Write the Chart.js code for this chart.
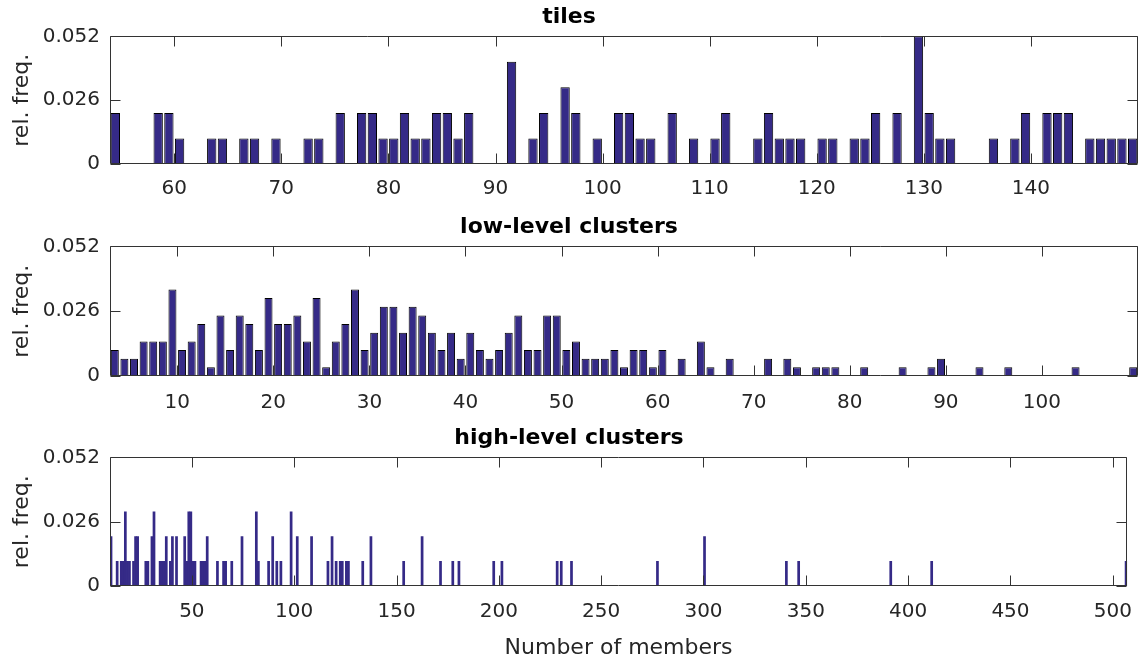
<!DOCTYPE html>
<html>
<head>
<meta charset="utf-8">
<title>Cluster size histograms</title>
<script src="https://cdn.jsdelivr.net/npm/chart.js@4.4.1/dist/chart.umd.min.js"></script>
<style>
  html, body { margin: 0; padding: 0; background: #fff; }
  #fig { position: relative; width: 1146px; height: 664px; }
  .panel { position: absolute; left: 0; width: 1146px; }
</style>
</head>
<body>
<div id="fig">
  <div class="panel" style="top:0;height:210px"><canvas id="tiles"></canvas></div>
  <div class="panel" style="top:210px;height:212px"><canvas id="low"></canvas></div>
  <div class="panel" style="top:422px;height:242px"><canvas id="high"></canvas></div>
</div>
<script>
// histogram bins (left edge of each 1-wide bin) and counts per bin, empty bins left out
var tileBins = [54, 58, 59, 60, 63, 64, 66, 67, 69, 72, 73, 75, 77, 78, 79, 80, 81, 82, 83, 84, 85, 86, 87,
  91, 93, 94, 96, 97, 99, 101, 102, 103, 104, 106, 108, 110, 111, 114, 115, 116, 117, 118, 120, 121,
  123, 124, 125, 127, 129, 130, 131, 132, 136, 138, 139, 141, 142, 143, 145, 146, 147, 148, 149];
var tileCounts = [2, 2, 2, 1, 1, 1, 1, 1, 1, 1, 1, 2, 2, 2, 1, 1, 2, 1, 1, 2, 2, 1, 2,
  4, 1, 2, 3, 2, 1, 2, 2, 1, 1, 2, 1, 1, 2, 1, 2, 1, 1, 1, 1, 1,
  1, 1, 2, 2, 5, 2, 1, 1, 1, 1, 2, 2, 2, 2, 1, 1, 1, 1, 1];

var lowBins = [3, 4, 5, 6, 7, 8, 9, 10, 11, 12, 13, 14, 15, 16, 17, 18, 19, 20, 21, 22, 23, 24, 25, 26,
  27, 28, 29, 30, 31, 32, 33, 34, 35, 36, 37, 38, 39, 40, 41, 42, 43, 44, 45, 46, 47, 48, 49, 50,
  51, 52, 53, 54, 55, 56, 57, 58, 59, 60, 62, 64, 65, 67, 71, 73, 74, 76, 77, 78, 81, 85, 88, 89,
  93, 96, 103, 109];
var lowCounts = [3, 2, 2, 4, 4, 4, 10, 3, 4, 6, 1, 7, 3, 7, 6, 3, 9, 6, 6, 7, 4, 9, 1, 4,
  6, 10, 3, 5, 8, 8, 5, 8, 7, 5, 3, 5, 2, 5, 3, 2, 3, 5, 7, 3, 3, 7, 7, 3,
  4, 2, 2, 2, 3, 1, 3, 3, 1, 3, 2, 4, 1, 2, 2, 2, 1, 1, 1, 1, 1, 1, 1, 2,
  1, 1, 1, 1];

var highBins = [10, 13, 15, 16, 17, 18, 19, 21, 22, 23, 27, 28, 30, 31, 34, 35, 36, 37, 39, 40, 42, 46,
  47, 48, 49, 50, 51, 54, 55, 56, 57, 62, 65, 66, 69, 74, 81, 82, 87, 89, 91, 93, 98, 101, 108,
  116, 118, 120, 122, 123, 125, 126, 133, 137, 153, 162, 171, 177, 180, 197, 201, 228, 230, 235,
  277, 300, 340, 346, 391, 411, 506];
var highCounts = [2, 1, 1, 1, 3, 1, 1, 1, 2, 2, 1, 1, 2, 3, 1, 1, 1, 2, 1, 2, 2, 2,
  1, 3, 3, 1, 1, 1, 1, 1, 2, 1, 1, 1, 1, 2, 3, 1, 1, 2, 1, 1, 3, 2, 2,
  1, 2, 1, 1, 1, 1, 1, 1, 2, 1, 2, 1, 1, 1, 1, 1, 1, 1, 1,
  1, 2, 1, 1, 1, 1, 1];

var tileTicks = [60, 70, 80, 90, 100, 110, 120, 130, 140];
var lowTicks = [10, 20, 30, 40, 50, 60, 70, 80, 90, 100];
var highTicks = [50, 100, 150, 200, 250, 300, 350, 400, 450, 500];
var freqTicks = [0, 0.026, 0.052];

Chart.defaults.font.family = '"DejaVu Sans", sans-serif';
Chart.defaults.color = '#262626';

// box around the plot area with inward tick marks on all four sides
var frame = {
  id: 'frame',
  afterDatasetsDraw: function (chart) {
    var ctx = chart.ctx, a = chart.chartArea, x = chart.scales.x, y = chart.scales.y;
    var L = Math.round(a.left) + 0.5, R = Math.round(a.right) - 0.5;
    var T = Math.round(a.top) + 0.5, B = Math.round(a.bottom) - 0.5;
    ctx.save();
    ctx.strokeStyle = '#333';
    ctx.lineWidth = 1;
    ctx.beginPath();
    ctx.rect(L, T, R - L, B - T);
    x.ticks.forEach(function (t) {
      var px = Math.round(x.getPixelForValue(t.value)) + 0.5;
      ctx.moveTo(px, B); ctx.lineTo(px, B - 10);
      ctx.moveTo(px, T); ctx.lineTo(px, T + 10);
    });
    y.ticks.forEach(function (t) {
      var py = Math.round(y.getPixelForValue(t.value)) + 0.5;
      ctx.moveTo(L, py); ctx.lineTo(L + 10, py);
      ctx.moveTo(R, py); ctx.lineTo(R - 10, py);
    });
    ctx.stroke();
    ctx.restore();
  }
};

function panel(id, o) {
  var total = o.counts.reduce(function (s, c) { return s + c; }, 0);
  // bars sit at the bin centres, height = relative frequency
  var points = o.bins.map(function (b, i) {
    return { x: b + 0.5, y: o.counts[i] / total };
  });

  return new Chart(document.getElementById(id), {
    type: 'bar',
    data: {
      datasets: [{
        data: points,
        backgroundColor: '#352A87',
        borderColor: '#000',
        borderWidth: o.edge,
        barPercentage: o.barPct,
        categoryPercentage: 1
      }]
    },
    options: {
      responsive: true,
      maintainAspectRatio: false,
      animation: false,
      layout: { padding: { left: 0, right: 8, top: 0, bottom: 0 } },
      plugins: {
        legend: { display: false },
        tooltip: { enabled: false },
        title: {
          display: true,
          text: o.title,
          color: '#000',
          font: { size: 22, weight: 'bold' },
          padding: o.titlePad
        }
      },
      scales: {
        x: {
          type: 'linear',
          offset: false,
          min: o.xMin,
          max: o.xMax,
          grid: { display: false, drawTicks: false },
          border: { display: false },
          ticks: { padding: o.tickPad, font: { size: 20 }, autoSkip: false, maxRotation: 0 },
          afterBuildTicks: function (s) {
            s.ticks = o.xTicks.map(function (v) { return { value: v }; });
          },
          afterFit: function (s) { s.height = o.xAxisH; },
          title: o.xTitle
            ? { display: true, text: o.xTitle, font: { size: 22 }, padding: { top: 0, bottom: 3 } }
            : { display: false }
        },
        y: {
          min: 0,
          max: 0.052,
          grid: { display: false, drawTicks: false },
          border: { display: false },
          ticks: {
            padding: 10,
            font: { size: 20 },
            callback: function (v) { return String(v); }
          },
          afterBuildTicks: function (s) {
            s.ticks = freqTicks.map(function (v) { return { value: v }; });
          },
          afterFit: function (s) { s.width = 110; },
          title: { display: true, text: 'rel. freq.', font: { size: 22 }, padding: { top: 9, bottom: 0 } }
        }
      }
    },
    plugins: [frame]
  });
}

panel('tiles', {
  title: 'tiles', bins: tileBins, counts: tileCounts,
  xMin: 54, xMax: 150, xTicks: tileTicks,
  edge: 1, barPct: 0.87, titlePad: { top: 4, bottom: 6 }, xAxisH: 46, tickPad: 13
});

panel('low', {
  title: 'low-level clusters', bins: lowBins, counts: lowCounts,
  xMin: 3, xMax: 110, xTicks: lowTicks,
  edge: 1, barPct: 0.83, titlePad: { top: 4, bottom: 6 }, xAxisH: 46, tickPad: 15
});

panel('high', {
  title: 'high-level clusters', bins: highBins, counts: highCounts,
  xMin: 10, xMax: 507, xTicks: highTicks,
  edge: 0, barPct: 1, titlePad: { top: 3, bottom: 6 }, xAxisH: 78, tickPad: 14,
  xTitle: 'Number of members'
});
</script>
</body>
</html>
